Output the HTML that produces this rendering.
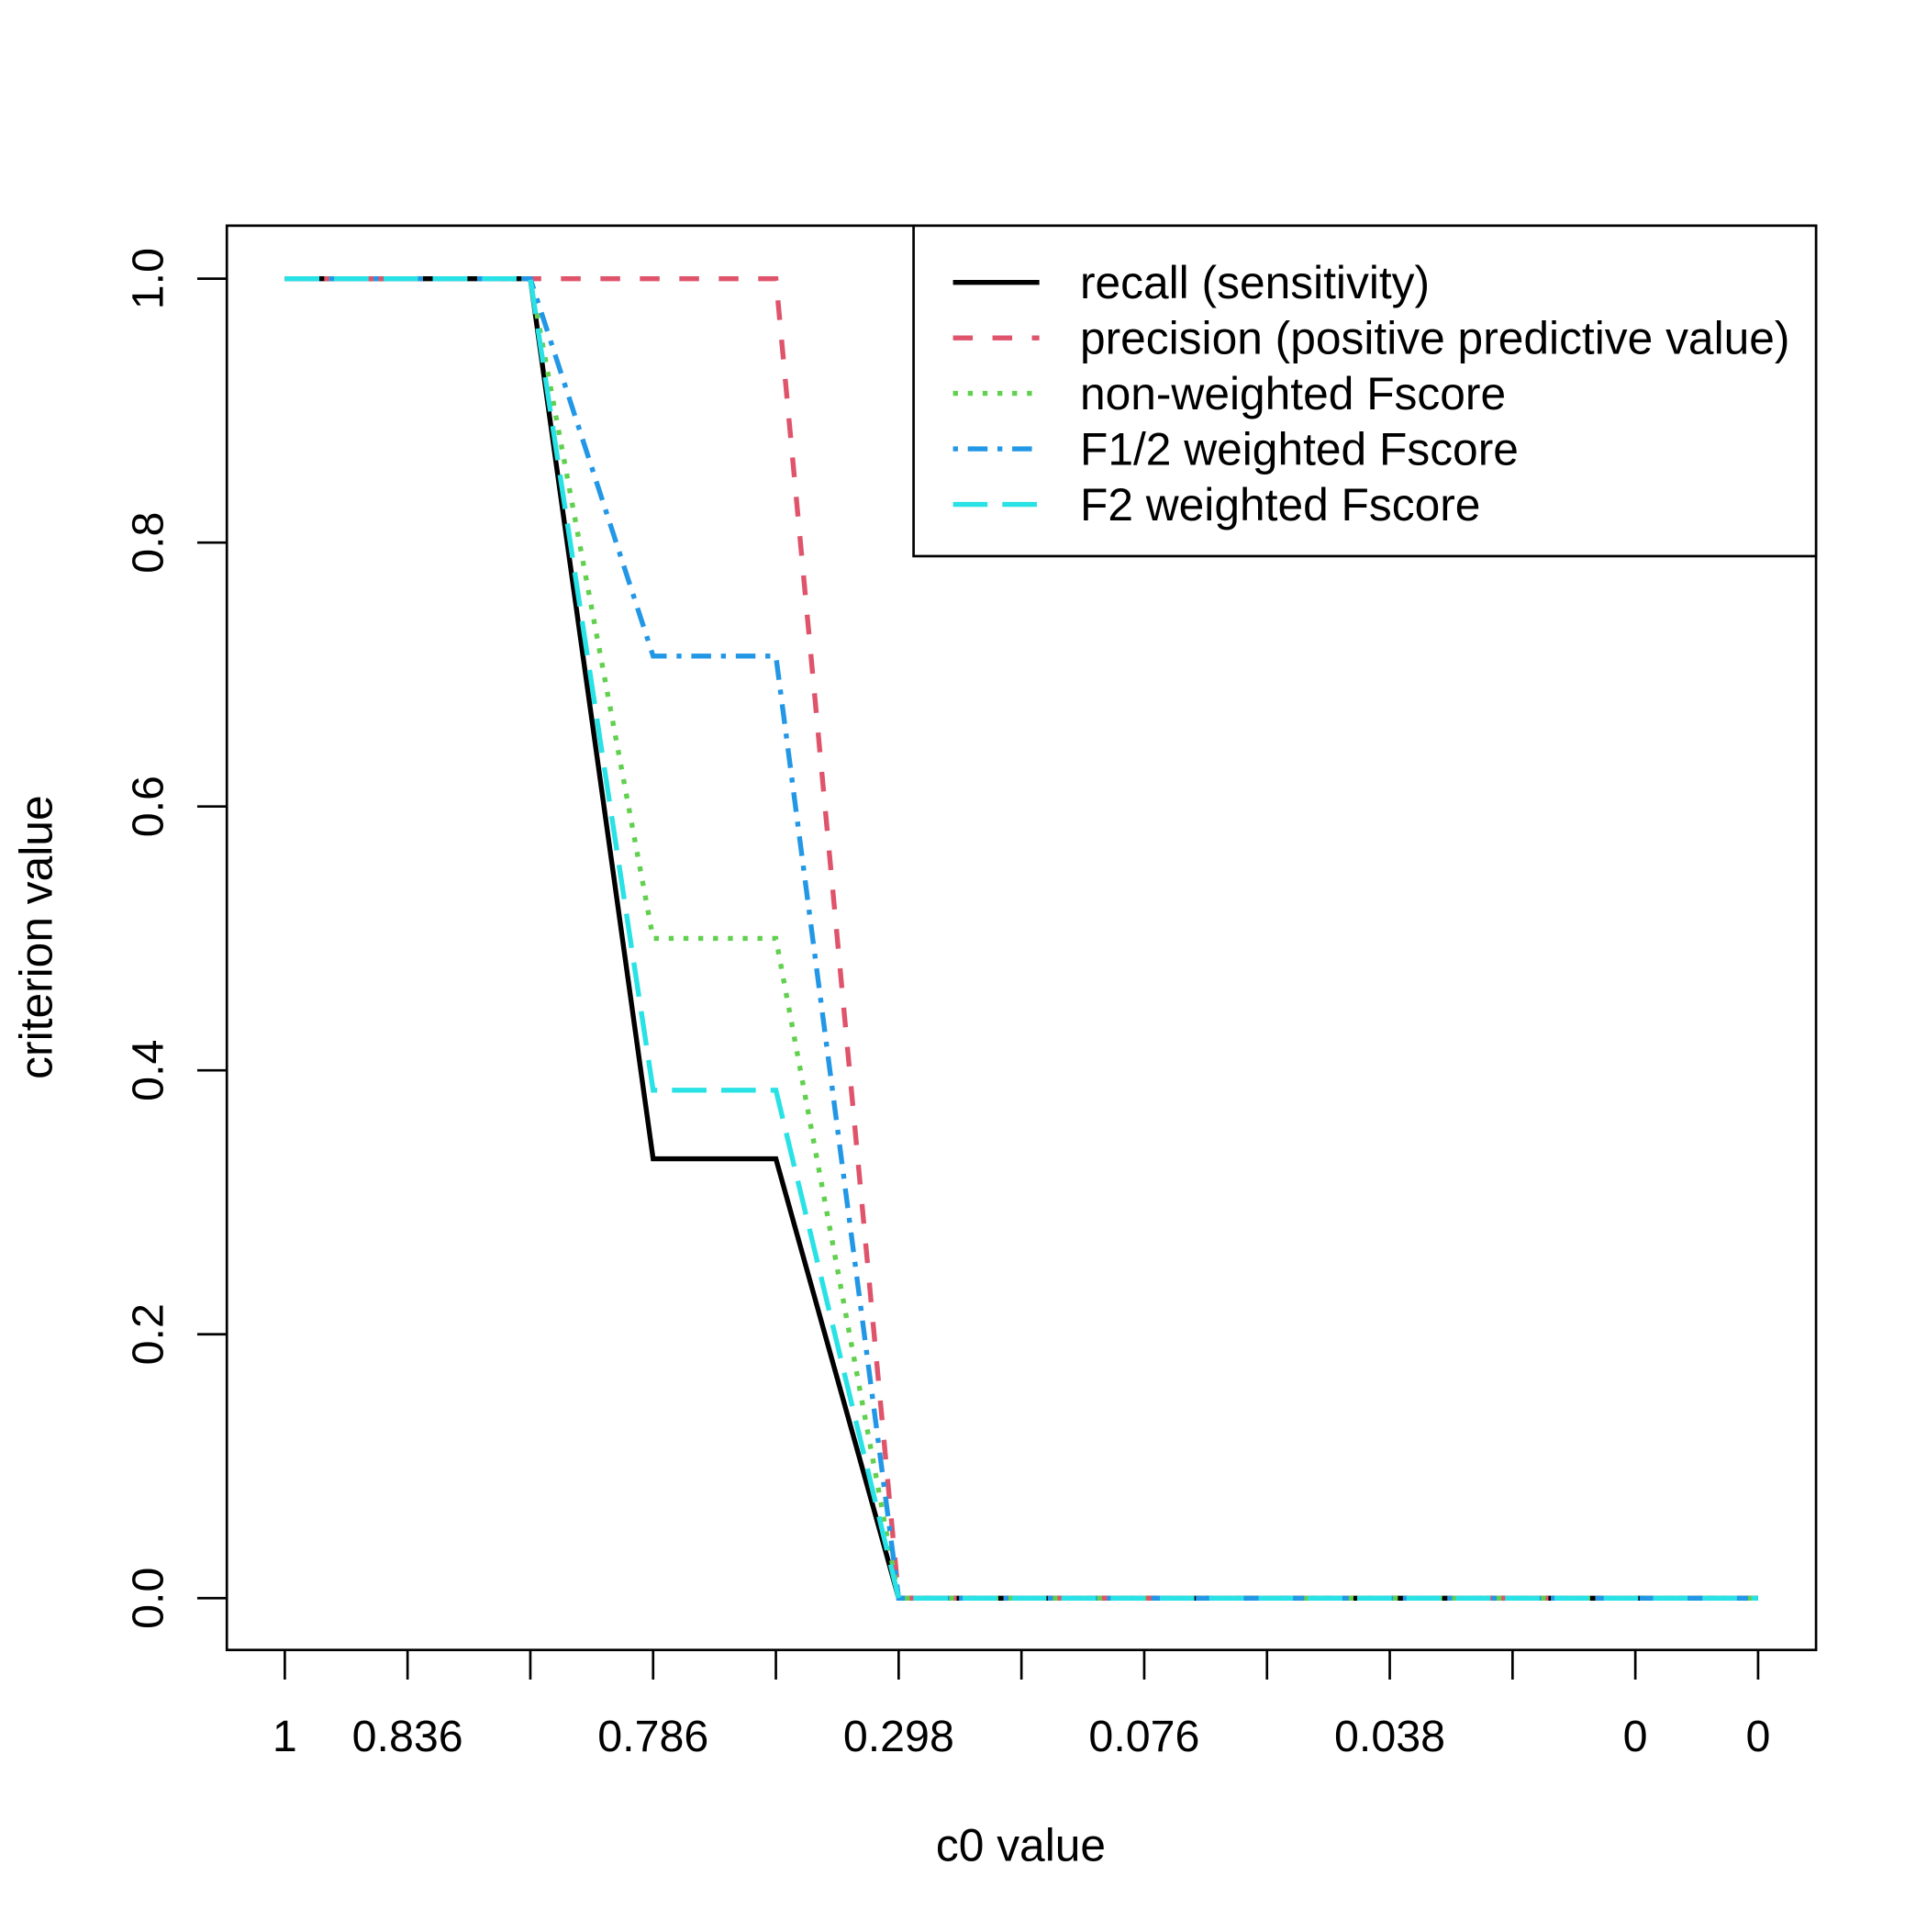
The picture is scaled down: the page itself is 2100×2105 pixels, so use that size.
<!DOCTYPE html>
<html><head><meta charset="utf-8"><style>
html,body{margin:0;padding:0;background:#fff}
svg text{font-family:"Liberation Sans",Arial,sans-serif;fill:#000}
</style></head><body>
<svg id="chart" xmlns="http://www.w3.org/2000/svg" width="2100" height="2100" viewBox="0 0 1563 1563">
<rect width="1563" height="1563" fill="#fff"/>
<g id="plot"></g>
</svg>
<script>
const xLabels = ["1","0.836","","0.786","","0.298","","0.076","","0.038","","0","0"];
const yTicks = [0,0.2,0.4,0.6,0.8,1.0];
const recall = [1,1,1,0.333,0.333,0,0,0,0,0,0,0,0];
const precision = [1,1,1,1,1,0,0,0,0,0,0,0,0];
const fscore = [1,1,1,0.5,0.5,0,0,0,0,0,0,0,0];
const fhalf = [1,1,1,0.714,0.714,0,0,0,0,0,0,0,0];
const ftwo = [1,1,1,0.385,0.385,0,0,0,0,0,0,0,0];
const seriesNames = ["recall (sensitivity)","precision (positive predictive value)","non-weighted Fscore","F1/2 weighted Fscore","F2 weighted Fscore"];

const NS="http://www.w3.org/2000/svg";
const g=document.getElementById('plot');
function mk(t,a,p){const e=document.createElementNS(NS,t);for(const k in a)e.setAttribute(k,a[k]);(p||g).appendChild(e);return e;}
const L=184,R=1473,T=183,B=1338;
const xS=i=>231+(i)*(1426-231)/12;
const yS=v=>1296-v*(1296-226);

const box=mk('rect',{x:L,y:T,width:R-L,height:B-T,fill:'none',stroke:'#000','stroke-width':2});



xLabels.forEach((lab,i)=>{
  const t=mk('line',{x1:xS(i),x2:xS(i),y1:B,y2:B+24,stroke:'#000','stroke-width':2});
  
  
  if(lab){const tx=mk('text',{x:xS(i),y:1420,'font-size':36,'text-anchor':'middle'});tx.textContent=lab;
  
  }
});
yTicks.forEach(v=>{
  const t=mk('line',{x1:L,x2:L-24,y1:yS(v),y2:yS(v),stroke:'#000','stroke-width':2});
  
  
  const tx=mk('text',{x:0,y:0,'font-size':36,'text-anchor':'middle',transform:`translate(132,${yS(v)}) rotate(-90)`});
  tx.textContent=v.toFixed(1);
  
  
});
const xt=mk('text',{x:828,y:1509,'font-size':37,'text-anchor':'middle'});xt.textContent='c0 value';


const yt=mk('text',{x:0,y:0,'font-size':37,'text-anchor':'middle',transform:'translate(42,760) rotate(-90)'});yt.textContent='criterion value';



const series=[
 {d:recall,c:'#000000',dash:'',n:'recall-line'},
 {d:precision,c:'#DF536B',dash:'16 16',n:'precision-line'},
 {d:fscore,c:'#61D04F',dash:'4 8',n:'fscore-line'},
 {d:fhalf,c:'#2297E6',dash:'4 8 16 8',n:'f-half-line'},
 {d:ftwo,c:'#28E2E5',dash:'28 12',n:'f-two-line'}
];
series.forEach(s=>{
  const pts=s.d.map((v,i)=>xS(i)+','+yS(v)).join(' ');
  const p=mk('polyline',{points:pts,fill:'none',stroke:s.c,'stroke-width':4,'stroke-dasharray':s.dash});
  
  
});

const lg=mk('g',{});


mk('rect',{x:741,y:183,width:732,height:268,fill:'#fff',stroke:'#000','stroke-width':2},lg);
series.forEach((s,i)=>{
  const y=229+i*45;
  mk('line',{x1:773,x2:843,y1:y,y2:y,stroke:s.c,'stroke-width':4,'stroke-dasharray':s.dash},lg);
  const t=mk('text',{x:876,y:y+13,'font-size':37},lg);
  t.textContent=seriesNames[i];
  
  
});
</script>
</body></html>
